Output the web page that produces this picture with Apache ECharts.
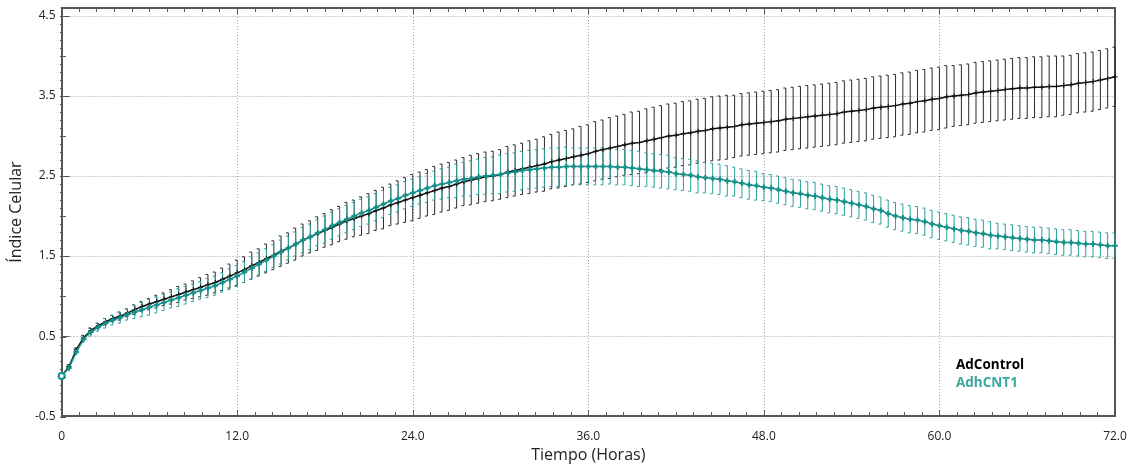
<!DOCTYPE html>
<html>
<head>
<meta charset="utf-8">
<script src="https://cdn.jsdelivr.net/npm/echarts@6/dist/echarts.min.js"></script>
<style>
  html, body { margin: 0; padding: 0; background: #fff; }
  #chart { width: 1131px; height: 468px; }
</style>
</head>
<body>
<div id="chart"></div>
<script>
// Cell index over 72 h, sampled every half hour (one row = 6 h)
const STEP_H = 0.5;
const xTicks = [0, 12, 24, 36, 48, 60, 72];
const yTicks = [-0.5, 0.5, 1.5, 2.5, 3.5, 4.5];
const seriesNames = ['AdControl', 'AdhCNT1'];

const adControlMean = [
  0.00, 0.12, 0.33, 0.48, 0.57, 0.63, 0.68, 0.72, 0.75, 0.79, 0.83, 0.87,
  0.90, 0.93, 0.96, 0.99, 1.02, 1.05, 1.08, 1.11, 1.14, 1.17, 1.21, 1.25,
  1.29, 1.33, 1.38, 1.42, 1.47, 1.51, 1.56, 1.60, 1.65, 1.70, 1.74, 1.78,
  1.82, 1.86, 1.90, 1.94, 1.97, 2.00, 2.03, 2.07, 2.10, 2.14, 2.17, 2.20,
  2.23, 2.26, 2.29, 2.32, 2.35, 2.37, 2.40, 2.43, 2.45, 2.47, 2.49, 2.50,
  2.52, 2.55, 2.57, 2.59, 2.61, 2.63, 2.65, 2.68, 2.70, 2.72, 2.74, 2.76,
  2.78, 2.81, 2.83, 2.85, 2.87, 2.89, 2.91, 2.92, 2.94, 2.96, 2.98, 3.00,
  3.01, 3.03, 3.04, 3.06, 3.07, 3.09, 3.10, 3.11, 3.12, 3.14, 3.15, 3.16,
  3.17, 3.18, 3.19, 3.21, 3.22, 3.23, 3.24, 3.25, 3.26, 3.27, 3.28, 3.30,
  3.31, 3.32, 3.33, 3.35, 3.36, 3.37, 3.38, 3.40, 3.41, 3.43, 3.44, 3.46,
  3.47, 3.49, 3.50, 3.51, 3.52, 3.54, 3.55, 3.56, 3.57, 3.58, 3.59, 3.60,
  3.60, 3.61, 3.61, 3.62, 3.62, 3.63, 3.64, 3.66, 3.67, 3.68, 3.70, 3.72,
  3.74
];
const adControlErr = [
  0.01, 0.02, 0.02, 0.03, 0.03, 0.03, 0.04, 0.04, 0.05, 0.05, 0.06, 0.06,
  0.07, 0.08, 0.08, 0.09, 0.10, 0.10, 0.11, 0.12, 0.13, 0.13, 0.14, 0.15,
  0.16, 0.16, 0.17, 0.17, 0.18, 0.18, 0.19, 0.19, 0.20, 0.20, 0.20, 0.21,
  0.21, 0.22, 0.22, 0.23, 0.23, 0.24, 0.25, 0.25, 0.26, 0.26, 0.27, 0.28,
  0.29, 0.29, 0.29, 0.30, 0.30, 0.30, 0.30, 0.30, 0.31, 0.31, 0.31, 0.31,
  0.31, 0.32, 0.32, 0.32, 0.33, 0.33, 0.34, 0.34, 0.35, 0.35, 0.35, 0.36,
  0.36, 0.37, 0.37, 0.38, 0.38, 0.38, 0.39, 0.39, 0.40, 0.40, 0.40, 0.40,
  0.40, 0.40, 0.40, 0.40, 0.40, 0.40, 0.40, 0.40, 0.39, 0.39, 0.39, 0.39,
  0.39, 0.39, 0.39, 0.39, 0.39, 0.39, 0.39, 0.39, 0.39, 0.39, 0.39, 0.39,
  0.39, 0.39, 0.39, 0.39, 0.39, 0.39, 0.39, 0.39, 0.39, 0.39, 0.39, 0.39,
  0.39, 0.39, 0.38, 0.38, 0.38, 0.38, 0.38, 0.38, 0.38, 0.38, 0.38, 0.38,
  0.38, 0.38, 0.38, 0.38, 0.38, 0.37, 0.37, 0.37, 0.37, 0.37, 0.37, 0.37,
  0.37
];

const adhCNT1Mean = [
  0.00, 0.10, 0.30, 0.46, 0.55, 0.61, 0.66, 0.70, 0.73, 0.77, 0.80, 0.83,
  0.86, 0.89, 0.92, 0.95, 0.98, 1.01, 1.04, 1.07, 1.10, 1.13, 1.17, 1.21,
  1.25, 1.30, 1.35, 1.40, 1.45, 1.50, 1.55, 1.60, 1.65, 1.70, 1.74, 1.79,
  1.83, 1.88, 1.92, 1.96, 2.00, 2.04, 2.07, 2.11, 2.15, 2.19, 2.22, 2.26,
  2.29, 2.32, 2.35, 2.38, 2.40, 2.42, 2.44, 2.46, 2.47, 2.49, 2.50, 2.51,
  2.52, 2.54, 2.55, 2.57, 2.58, 2.59, 2.60, 2.61, 2.61, 2.62, 2.62, 2.62,
  2.62, 2.62, 2.62, 2.62, 2.61, 2.61, 2.60, 2.59, 2.58, 2.57, 2.56, 2.55,
  2.53, 2.52, 2.51, 2.49, 2.48, 2.47, 2.46, 2.44, 2.43, 2.41, 2.39, 2.38,
  2.36, 2.35, 2.33, 2.31, 2.29, 2.28, 2.26, 2.25, 2.23, 2.21, 2.20, 2.18,
  2.16, 2.14, 2.12, 2.09, 2.07, 2.03, 2.00, 1.98, 1.96, 1.95, 1.93, 1.90,
  1.88, 1.86, 1.84, 1.82, 1.81, 1.79, 1.78, 1.76, 1.75, 1.74, 1.73, 1.72,
  1.71, 1.70, 1.70, 1.69, 1.68, 1.67, 1.67, 1.66, 1.65, 1.65, 1.64, 1.63,
  1.63
];
const adhCNT1Err = [
  0.01, 0.02, 0.03, 0.04, 0.05, 0.05, 0.06, 0.06, 0.07, 0.07, 0.08, 0.09,
  0.10, 0.10, 0.10, 0.10, 0.11, 0.11, 0.11, 0.11, 0.12, 0.12, 0.12, 0.13,
  0.13, 0.13, 0.14, 0.14, 0.14, 0.14, 0.15, 0.15, 0.15, 0.16, 0.16, 0.16,
  0.17, 0.17, 0.17, 0.17, 0.17, 0.17, 0.17, 0.17, 0.17, 0.17, 0.17, 0.17,
  0.17, 0.17, 0.18, 0.18, 0.19, 0.19, 0.21, 0.21, 0.22, 0.22, 0.23, 0.23,
  0.24, 0.24, 0.24, 0.24, 0.24, 0.24, 0.24, 0.24, 0.24, 0.24, 0.23, 0.23,
  0.23, 0.23, 0.23, 0.22, 0.22, 0.22, 0.22, 0.22, 0.21, 0.21, 0.21, 0.21,
  0.20, 0.20, 0.20, 0.20, 0.19, 0.19, 0.19, 0.19, 0.18, 0.18, 0.18, 0.18,
  0.17, 0.17, 0.17, 0.17, 0.17, 0.17, 0.17, 0.17, 0.17, 0.17, 0.17, 0.17,
  0.17, 0.17, 0.17, 0.17, 0.17, 0.17, 0.17, 0.17, 0.17, 0.17, 0.17, 0.17,
  0.17, 0.17, 0.17, 0.17, 0.17, 0.17, 0.17, 0.17, 0.16, 0.16, 0.16, 0.16,
  0.16, 0.16, 0.16, 0.16, 0.16, 0.16, 0.16, 0.16, 0.16, 0.16, 0.16, 0.16,
  0.16
];

const COLOR_CTRL = '#111111';
const COLOR_CTRL_BAR = '#2a2a2a';
const COLOR_CNT = '#16908a';
const COLOR_CNT_BAR = '#2b9f98';
const LEGEND_CNT = '#3aa8a0';
const AXIS_COLOR = '#555555';
const FONT = '"Open Sans", "Noto Sans", sans-serif';

const hours = adControlMean.map((_, i) => i * STEP_H);
const points = (mean) => mean.map((v, i) => [hours[i], v]);
const ranges = (mean, err) => mean.map((v, i) => [hours[i], v - err[i], v + err[i]]);

// small filled "+" marker
const PLUS = 'path://M4,0H6V4H10V6H6V10H4V6H0V4H4Z';

function errorBars(color) {
  return function (params, api) {
    const x = api.value(0);
    const lo = api.coord([x, api.value(1)]);
    const hi = api.coord([x, api.value(2)]);
    const st = { stroke: color, lineWidth: 1 };
    return {
      type: 'group',
      children: [
        { type: 'line', shape: { x1: lo[0], y1: lo[1], x2: hi[0], y2: hi[1] }, style: st },
        { type: 'line', shape: { x1: lo[0] - 2.5, y1: lo[1], x2: lo[0], y2: lo[1] }, style: st },
        { type: 'line', shape: { x1: hi[0] - 2.5, y1: hi[1], x2: hi[0], y2: hi[1] }, style: st }
      ]
    };
  };
}

const GRID = { left: 60, right: 16, top: 8, bottom: 51 };
const Y_MIN = -0.5, Y_MAX = 4.6;
// second grid whose top sits on 4.5, used only for the fine y ticks
const plotH = 468 - GRID.top - GRID.bottom;
const gridFineTop = GRID.top + plotH * (Y_MAX - 4.5) / (Y_MAX - Y_MIN);

const axisLine = { show: true, onZero: false, lineStyle: { color: AXIS_COLOR, width: 2 } };
const dotted = { show: true, lineStyle: { color: '#a0a0a0', width: 1, type: [1, 2] } };

const chart = echarts.init(document.getElementById('chart'), null, { renderer: 'canvas' });

chart.setOption({
  animation: false,
  backgroundColor: '#ffffff',
  textStyle: { fontFamily: FONT },
  grid: [
    Object.assign({}, GRID),
    { left: GRID.left, right: GRID.right, top: gridFineTop, bottom: GRID.bottom }
  ],
  legend: {
    orient: 'vertical',
    left: 946,
    top: 353,
    icon: 'none',
    itemWidth: 0,
    itemHeight: 10,
    itemGap: 4,
    selectedMode: false,
    textStyle: { fontFamily: FONT, fontSize: 13.5, fontWeight: 'bold' },
    data: [
      { name: seriesNames[0], textStyle: { color: '#000000' } },
      { name: seriesNames[1], textStyle: { color: LEGEND_CNT } }
    ]
  },
  xAxis: [
    {
      type: 'value', gridIndex: 0, position: 'bottom',
      min: xTicks[0], max: xTicks[xTicks.length - 1], interval: xTicks[1] - xTicks[0],
      name: 'Tiempo (Horas)', nameLocation: 'middle', nameGap: 30,
      nameTextStyle: { fontSize: 16, color: '#222', fontFamily: FONT },
      axisLine: axisLine,
      axisTick: { show: true, inside: true, length: 6, lineStyle: { color: AXIS_COLOR } },
      minorTick: { show: true, splitNumber: 10, length: 4, lineStyle: { color: AXIS_COLOR } },
      axisLabel: {
        color: '#222', fontSize: 12, margin: 14,
        formatter: (v) => (v === 0 ? '0' : v.toFixed(1))
      },
      splitLine: dotted
    },
    {
      type: 'value', gridIndex: 0, position: 'top',
      min: xTicks[0], max: xTicks[xTicks.length - 1], interval: xTicks[1] - xTicks[0],
      axisLine: axisLine,
      axisTick: { show: true, inside: true, length: 6, lineStyle: { color: AXIS_COLOR } },
      minorTick: { show: true, splitNumber: 10, length: 4, lineStyle: { color: AXIS_COLOR } },
      axisLabel: { show: false },
      splitLine: { show: false }
    },
    {
      type: 'value', gridIndex: 1, show: false,
      min: xTicks[0], max: xTicks[xTicks.length - 1]
    }
  ],
  yAxis: [
    {
      type: 'value', gridIndex: 0, position: 'left',
      min: Y_MIN, max: Y_MAX, interval: 1,
      name: 'Índice Celular', nameLocation: 'middle', nameGap: 32,
      nameTextStyle: { fontSize: 16, color: '#222', fontFamily: FONT },
      axisLine: axisLine,
      axisTick: { show: true, inside: true, length: 8, lineStyle: { color: AXIS_COLOR } },
      axisLabel: {
        color: '#222', fontSize: 12, margin: 6, showMaxLabel: false,
        formatter: (v) => (yTicks.indexOf(Math.round(v * 10) / 10) >= 0 ? v.toFixed(1) : '')
      },
      splitLine: dotted
    },
    {
      type: 'value', gridIndex: 0, position: 'right',
      min: Y_MIN, max: Y_MAX, interval: 1,
      axisLine: axisLine,
      axisTick: { show: false },
      axisLabel: { show: false },
      splitLine: { show: false }
    },
    {
      type: 'value', gridIndex: 1, position: 'left',
      min: -0.5, max: 4.5, interval: 0.5,
      axisLine: { show: false },
      axisTick: { show: true, inside: true, length: 6, lineStyle: { color: AXIS_COLOR } },
      minorTick: { show: true, splitNumber: 5, length: 3, lineStyle: { color: AXIS_COLOR } },
      axisLabel: { show: false },
      splitLine: { show: false }
    }
  ],
  series: [
    {
      name: seriesNames[0] + ' error', type: 'custom', xAxisIndex: 0, yAxisIndex: 0,
      renderItem: errorBars(COLOR_CTRL_BAR), z: 2,
      encode: { x: 0, y: [1, 2] },
      data: ranges(adControlMean, adControlErr)
    },
    {
      name: seriesNames[1] + ' error', type: 'custom', xAxisIndex: 0, yAxisIndex: 0,
      renderItem: errorBars(COLOR_CNT_BAR), z: 3,
      encode: { x: 0, y: [1, 2] },
      data: ranges(adhCNT1Mean, adhCNT1Err)
    },
    {
      name: seriesNames[0], type: 'line', xAxisIndex: 0, yAxisIndex: 0, z: 4,
      data: points(adControlMean),
      color: COLOR_CTRL,
      lineStyle: { color: COLOR_CTRL, width: 1.5 },
      symbol: PLUS, symbolSize: 5, showAllSymbol: true,
      itemStyle: { color: COLOR_CTRL }
    },
    {
      name: seriesNames[1], type: 'line', xAxisIndex: 0, yAxisIndex: 0, z: 5,
      data: points(adhCNT1Mean),
      color: COLOR_CNT,
      lineStyle: { color: COLOR_CNT, width: 1.5 },
      symbol: (v, p) => (p.dataIndex === 0 ? 'emptyCircle' : PLUS),
      symbolSize: (v, p) => (p.dataIndex === 0 ? 6 : 5),
      showAllSymbol: true,
      itemStyle: { color: COLOR_CNT, borderColor: COLOR_CNT }
    }
  ]
});
</script>
</body>
</html>
